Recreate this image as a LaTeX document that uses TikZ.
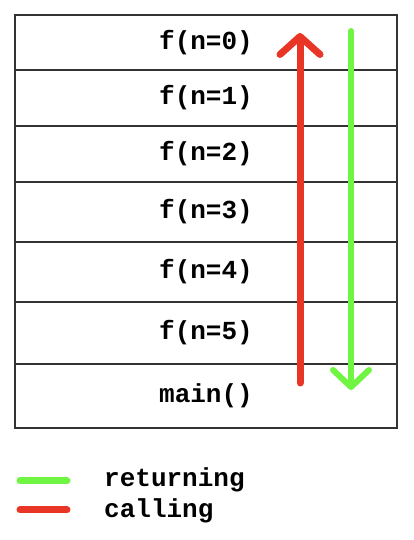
\documentclass[tikz,border=0pt]{standalone}
\usepackage{fontspec}
\setmonofont{Liberation Mono}
\usepackage{xcolor}
\usetikzlibrary{arrows.meta}
\definecolor{callred}{RGB}{233,53,38}
\definecolor{retgreen}{RGB}{112,246,66}

\begin{document}
\begin{tikzpicture}[
  x=1pt, y=1pt,
  frame/.style={draw=black!80, line width=1.5pt, minimum width=382pt,
                inner sep=0pt, font=\fontsize{26}{28}\selectfont\ttfamily\bfseries},
  key/.style={anchor=west, inner sep=0pt, font=\fontsize{26}{28}\selectfont\ttfamily\bfseries},
  calls/.style={-{Straight Barb[length=18pt,width=40pt,round]}, line width=7pt,
                line cap=round, draw=callred},
  returns/.style={-{Straight Barb[length=17pt,width=36pt,round]}, line width=6pt,
                  line cap=round, draw=retgreen}
]
  \useasboundingbox (0,0) rectangle (414,540);

  \node[frame, minimum height=55pt] (f0) at (206,497.5) {f(n=0)};
  \node[frame, minimum height=56pt] (f1) at (206,442) {f(n=1)};
  \node[frame, minimum height=56pt] (f2) at (206,386) {f(n=2)};
  \node[frame, minimum height=60pt] (f3) at (206,328) {f(n=3)};
  \node[frame, minimum height=60pt] (f4) at (206,268) {f(n=4)};
  \node[frame, minimum height=62pt] (f5) at (206,207) {f(n=5)};
  \node[frame, minimum height=64pt] (main) at (206,144) {main()};

  \coordinate (callstart) at (300,157);
  \coordinate (callend) at (300,507);
  \coordinate (retstart) at (351,509);
  \coordinate (retend) at (351,150);

  \draw[calls] (callstart) -- (callend);
  \draw[returns] (retstart) -- (retend);

  % legend
  \coordinate (greenA) at (20,59);
  \coordinate (greenB) at (67,59);
  \coordinate (redA) at (20,30);
  \coordinate (redB) at (67,30);
  \draw[retgreen, line width=7pt, line cap=round] (greenA) -- (greenB);
  \draw[callred, line width=7pt, line cap=round] (redA) -- (redB);
  \node[key] (returning) at (104,60) {returning};
  \node[key] (calling) at (104,29) {calling};
\end{tikzpicture}
\end{document}
